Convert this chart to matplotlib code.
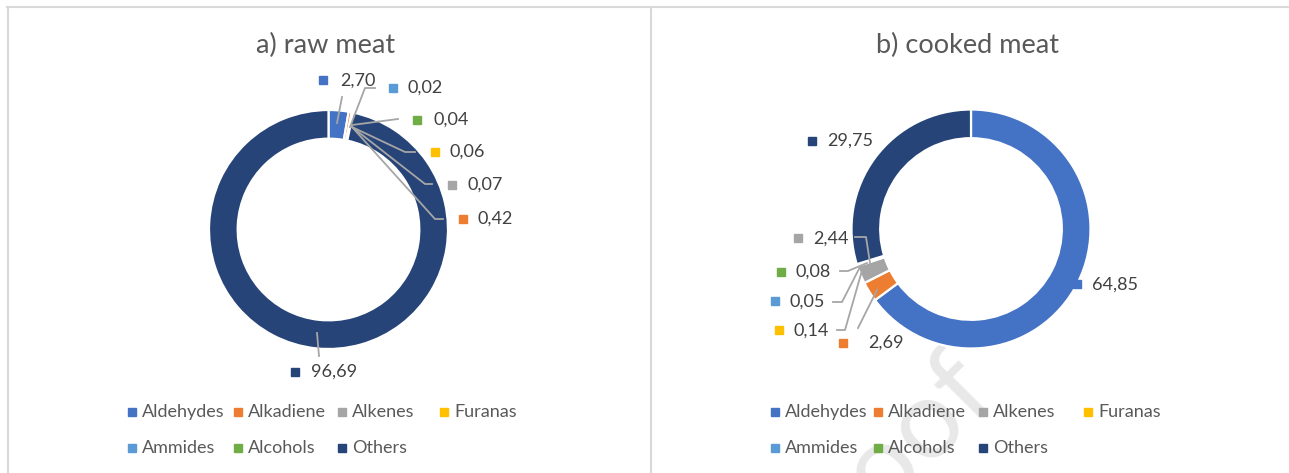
import matplotlib
matplotlib.use("Agg")
import matplotlib.pyplot as plt
from matplotlib.lines import Line2D

plt.rcParams['font.family'] = ['Lato', 'DejaVu Sans']

# ---- data ----
categories = ["Aldehydes", "Alkadiene", "Alkenes", "Furanas", "Ammides", "Alcohols", "Others"]
colors = ["#4472C4", "#ED7D31", "#A5A5A5", "#FFC000", "#5B9BD5", "#70AD47", "#264478"]
raw_values = [2.70, 0.42, 0.07, 0.06, 0.02, 0.04, 96.69]
cooked_values = [64.85, 2.69, 2.44, 0.14, 0.05, 0.08, 29.75]
titles = ["a) raw meat", "b) cooked meat"]

# ---- layout (pixel coordinates, top-left origin) ----
W, H = 1289, 473
fig = plt.figure(figsize=(W / 100, H / 100), dpi=100)
fig.patch.set_facecolor("white")


def P(x, y):
    return (x / W, 1 - y / H)


TXT = "#404040"
LEG = "#595959"
LINE = "#A6A6A6"

# watermark (behind the charts)
wx, wy = P(1000, 398)
fig.text(wx, wy, "Journal Pre-proof", rotation=45, rotation_mode="anchor",
         ha="right", va="baseline", fontsize=80, color="#E8E8E8", zorder=-5)

# frame lines
for xs, ys in [((7, W), (7.5, 7.5)), ((7.5, 7.5), (7, H)), ((650.5, 650.5), (7, H))]:
    fig.add_artist(Line2D([xs[0] / W, xs[1] / W], [1 - ys[0] / H, 1 - ys[1] / H],
                          transform=fig.transFigure, color="#D9D9D9", lw=1.5, zorder=-1))

centers = [(328.5, 229.5), (971.0, 229.0)]
R = 119.5
title_pos = [(326, 45), (968, 45)]

for i, vals in enumerate([raw_values, cooked_values]):
    cx, cy = centers[i]
    ax = fig.add_axes([(cx - R) / W, (H - (cy + R)) / H, 2 * R / W, 2 * R / H])
    ax.set_facecolor("white")
    for s in ax.spines.values():
        s.set_visible(False)
    ax.set_xticks([]); ax.set_yticks([])
    ax.pie(vals, colors=colors, startangle=90, counterclock=False, radius=1,
           wedgeprops=dict(width=0.24, edgecolor="white", linewidth=1.6))
    ax.set_xlim(-1, 1); ax.set_ylim(-1, 1)
    tx, ty = P(*title_pos[i])
    fig.text(tx, ty, titles[i], ha="center", va="center", fontsize=19.5, color=LEG)

# ---- data labels: (value index, marker px, text px) ----
raw_labels = [
    (0, (323, 80), (340, 81)),
    (4, (393, 88), (408, 88)),
    (5, (417, 120), (433, 120)),
    (3, (435, 152), (450, 152)),
    (2, (452, 185), (467, 185)),
    (1, (463, 219), (478, 219)),
    (6, (295, 372), (311, 372)),
]
cooked_labels = [
    (6, (812, 141), (827, 141)),
    (2, (798, 238), (813, 239)),
    (5, (781, 272), (795, 272)),
    (4, (775, 301), (790, 302)),
    (3, (779, 330), (793, 331)),
    (1, (843, 343), (868, 343)),
    (0, (1077, 284), (1092, 285)),
]
raw_leaders = [
    [(342, 97), (337, 123)],
    [(375, 88), (365, 88), (350, 127)],
    [(398, 119), (352, 125)],
    [(415, 152), (405, 152), (352, 127)],
    [(432, 184), (425, 184), (352, 127)],
    [(443, 219), (435, 219), (352, 127)],
    [(317, 333), (319, 356)],
]
cooked_leaders = [
    [(855, 237), (866, 237), (870, 263)],
    [(840, 271), (848, 271), (867, 263)],
    [(833, 302), (842, 302), (860, 267)],
    [(837, 330), (845, 330), (863, 267)],
    [(858, 328), (877, 290)],
]

for vals, labels, leaders in [(raw_values, raw_labels, raw_leaders),
                              (cooked_values, cooked_labels, cooked_leaders)]:
    for pts in leaders:
        xs = [p[0] / W for p in pts]
        ys = [1 - p[1] / H for p in pts]
        fig.add_artist(Line2D(xs, ys, transform=fig.transFigure, color=LINE, lw=1.3, zorder=4))
    for idx, mpos, tpos in labels:
        mx, my = P(*mpos)
        fig.add_artist(Line2D([mx], [my], transform=fig.transFigure, marker="s",
                              markersize=5.2, color=colors[idx], lw=0, zorder=5))
        tx, ty = P(*tpos)
        fig.text(tx, ty, f"{vals[idx]:.2f}".replace(".", ","), ha="left", va="center",
                 fontsize=13, color=TXT, zorder=5)

# ---- legends ----
legend_order = [[0, 1, 2, 3], [4, 5, 6]]
row_y = [412, 448]
col_x = [[132, 238, 342, 444], [775, 878, 983, 1088]]
for cols in col_x:
    for r, row in enumerate(legend_order):
        for c, idx in enumerate(row):
            mx, my = P(cols[c], row_y[r])
            fig.add_artist(Line2D([mx], [my], transform=fig.transFigure, marker="s",
                                  markersize=5.2, color=colors[idx], lw=0, zorder=5))
            tx, ty = P(cols[c] + 10, row_y[r])
            fig.text(tx, ty, categories[idx], ha="left", va="center",
                     fontsize=13, color=LEG, zorder=5)

fig.savefig("out.png", dpi=100, facecolor="white")
